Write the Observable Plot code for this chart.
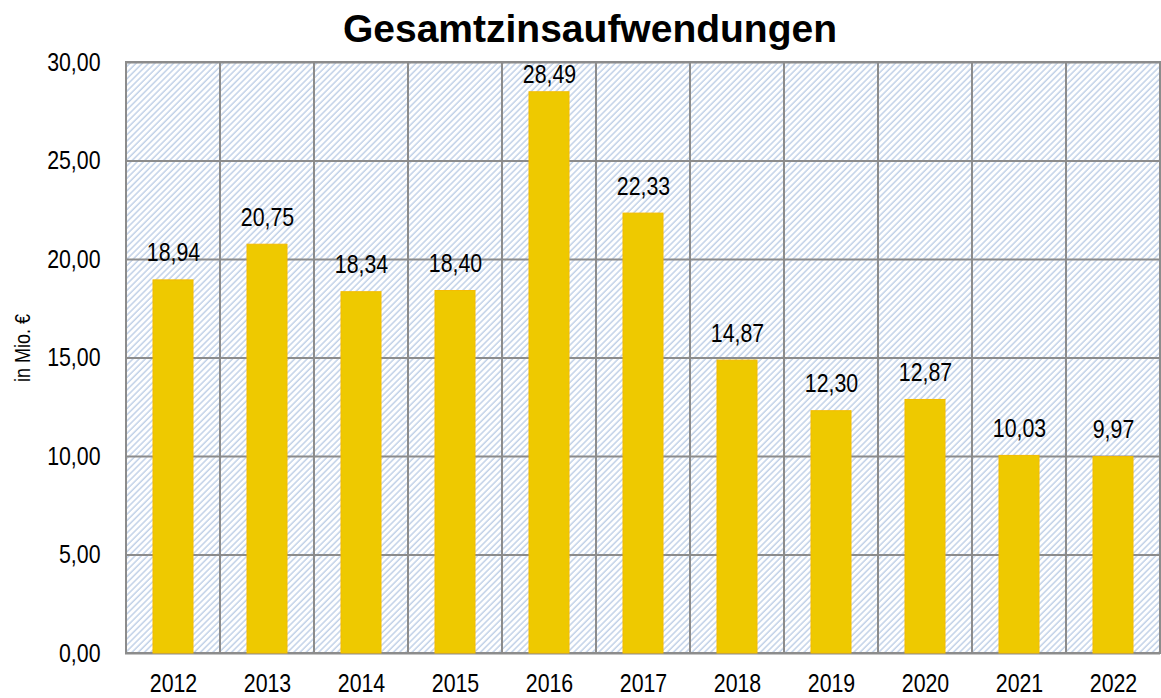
<!DOCTYPE html>
<html>
<head>
<meta charset="utf-8">
<script src="https://cdn.jsdelivr.net/npm/d3@7"></script>
<script src="https://cdn.jsdelivr.net/npm/@observablehq/plot@0.6"></script>
<style>
  html, body { margin: 0; padding: 0; background: #fff; }
  #wrap { position: relative; width: 1161px; height: 698px; overflow: hidden; }
  #title { position: absolute; left: 0; top: 6px; width: 1180px; text-align: center;
    font-family: "Liberation Sans", Arial, sans-serif; font-weight: bold; font-size: 39px; line-height: 46px; color: #000; }
  #ylabel { position: absolute; left: 23px; top: 348px; transform: translate(-50%, -50%) rotate(-90deg) scaleX(0.82);
    font-family: "Liberation Sans", Arial, sans-serif; font-size: 22px; white-space: nowrap; color: #000; }
  #chart { position: absolute; left: 0; top: 30px; }
</style>
</head>
<body>
<div id="wrap">
  <div id="title">Gesamtzinsaufwendungen</div>
  <div id="chart"></div>
  <div id="ylabel"></div>
</div>
<script>
const years = ["2012","2013","2014","2015","2016","2017","2018","2019","2020","2021","2022"];
const values = [18.94, 20.75, 18.34, 18.40, 28.49, 22.33, 14.87, 12.30, 12.87, 10.03, 9.97];
const yTicks = [0, 5, 10, 15, 20, 25, 30];
const yLabel = "in Mio. €";

document.getElementById("ylabel").textContent = yLabel;

const data = years.map((y, i) => ({year: y, value: values[i]}));
const fmt = v => v.toFixed(2).replace(".", ",");
const font = "'Liberation Sans', Arial, sans-serif";

const plot = Plot.plot({
  width: 1161,
  height: 668,
  marginTop: 32,
  marginBottom: 45,
  marginLeft: 125,
  marginRight: 1,
  style: {fontFamily: font, fontSize: "26px", color: "#000", background: "transparent", overflow: "visible"},
  x: {type: "band", domain: years, padding: 0},
  y: {domain: [0, 30]},
  marks: [
    Plot.barY(years, {x: d => d, y1: 0, y2: 30, fill: "url(#hatch)", stroke: "#8c8c8c", strokeWidth: 2, inset: 0}),
    Plot.ruleY(yTicks, {y: d => d, stroke: "#8c8c8c", strokeWidth: 2}),
    Plot.barY(data, {x: "year", y: "value", fill: "#EEC900", stroke: "#F4BC00", strokeWidth: 1, insetLeft: 27, insetRight: 27}),
    Plot.text(data, {x: "year", y: d => Math.min(d.value, 28.0), text: d => fmt(d.value), lineAnchor: "bottom", dy: -19, fontSize: 26, fill: "#000", className: "narrow"}),
    Plot.axisY({ticks: yTicks, tickFormat: fmt, tickSize: 0, tickPadding: 25, label: null, fontSize: 26, className: "narrow"}),
    Plot.axisX({tickSize: 0, tickPadding: 20, label: null, fontSize: 26, className: "narrow"})
  ]
});

const svg = d3.select(plot);
const defs = svg.insert("defs", ":first-child");
const pat = defs.append("pattern")
  .attr("id", "hatch")
  .attr("patternUnits", "userSpaceOnUse")
  .attr("width", 4.4)
  .attr("height", 4.4)
  .attr("patternTransform", "rotate(45)");
pat.append("rect").attr("width", 4.4).attr("height", 4.4).attr("fill", "#ffffff");
pat.append("line").attr("x1", 1).attr("y1", 0).attr("x2", 1).attr("y2", 4.4)
  .attr("stroke", "#c2d2e8").attr("stroke-width", 1.5);

document.getElementById("chart").appendChild(plot);

// emulate a narrow typeface (Arial Narrow) by horizontally compressing glyphs
svg.selectAll("g.narrow text, g[aria-label='text'] text, g[aria-label='y-axis tick label'] text, g[aria-label='x-axis tick label'] text").each(function() {
  const len = this.getComputedTextLength();
  if (len > 0) {
    this.setAttribute("textLength", (len * 0.82).toFixed(2));
    this.setAttribute("lengthAdjust", "spacingAndGlyphs");
  }
});
</script>
</body>
</html>
